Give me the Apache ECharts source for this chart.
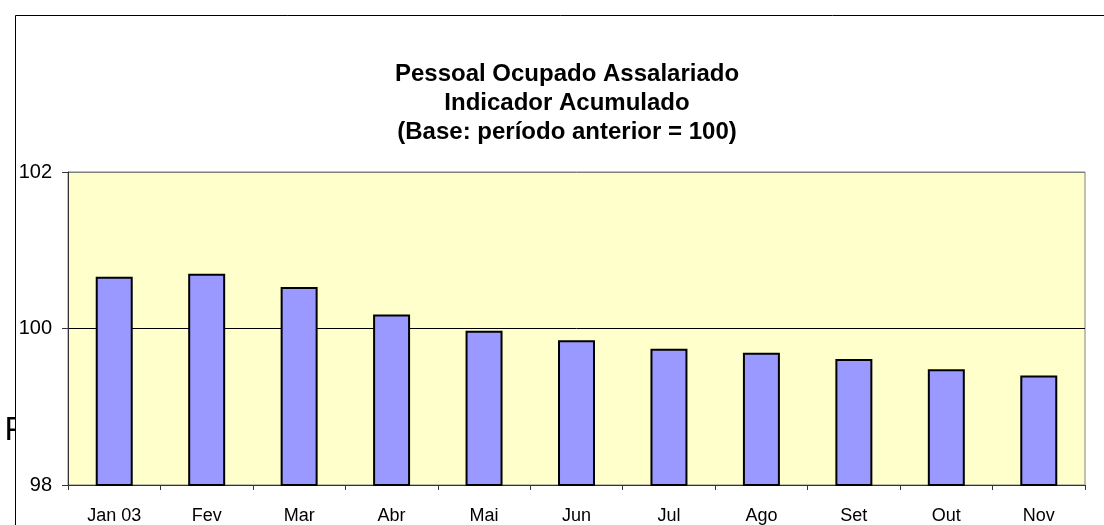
<!DOCTYPE html>
<html>
<head>
<meta charset="utf-8">
<script src="https://cdn.jsdelivr.net/npm/echarts@6/dist/echarts.min.js"></script>
<style>html,body{margin:0;padding:0;background:#fff}#c{width:1104px;height:525px}</style>
</head>
<body>
<div id="c"></div>
<script>
const categories = ['Jan 03', 'Fev', 'Mar', 'Abr', 'Mai', 'Jun', 'Jul', 'Ago', 'Set', 'Out', 'Nov'];
const values = [100.66, 100.70, 100.53, 100.18, 99.97, 99.85, 99.74, 99.69, 99.61, 99.48, 99.40];
const titleLines = ['Pessoal Ocupado Assalariado', 'Indicador Acumulado', '(Base: período anterior = 100)'];

const chart = echarts.init(document.getElementById('c'), null, {renderer: 'canvas'});
const font = '"Liberation Sans", Arial, sans-serif';
chart.setOption({
  animation: false,
  backgroundColor: '#fff',
  title: {
    text: titleLines.join('\n'),
    left: 562, top: 55, textAlign: 'center',
    textStyle: {fontFamily: font, fontSize: 24, fontWeight: 'bold', color: '#000', lineHeight: 29}
  },
  graphic: [
    {type: 'text', z: -20, x: 4.5, y: 431, style: {text: 'P', font: '33px ' + font, fill: '#000', verticalAlign: 'middle', align: 'left'}},
    {type: 'rect', z: -10, shape: {x: 15.5, y: 15.5, width: 1200, height: 600}, style: {fill: '#fff', stroke: '#000', lineWidth: 1}}
  ],
  grid: {left: 68, right: 19, top: 172, bottom: 37, show: true, backgroundColor: '#ffffcc', borderColor: '#808080', borderWidth: 1, z: 0},
  xAxis: {
    type: 'category', data: categories,
    axisLine: {lineStyle: {color: '#333', width: 1}},
    axisTick: {show: true, length: 5, alignWithLabel: false, lineStyle: {color: '#333'}},
    axisLabel: {fontFamily: font, fontSize: 18, color: '#000', margin: 22}
  },
  yAxis: {
    type: 'value', min: 98, max: 102, interval: 2,
    axisLine: {show: true, lineStyle: {color: '#333', width: 1}},
    axisTick: {show: true, length: 6, lineStyle: {color: '#333'}},
    axisLabel: {fontFamily: font, fontSize: 20, color: '#000', margin: 16},
    splitLine: {show: true, lineStyle: {color: ['#000', '#000', '#808080'], width: 1}}
  },
  series: [{
    type: 'bar', data: values, barWidth: '40%',
    itemStyle: {color: '#9999ff', borderColor: '#000', borderWidth: 2}
  }]
});
</script>
</body>
</html>
